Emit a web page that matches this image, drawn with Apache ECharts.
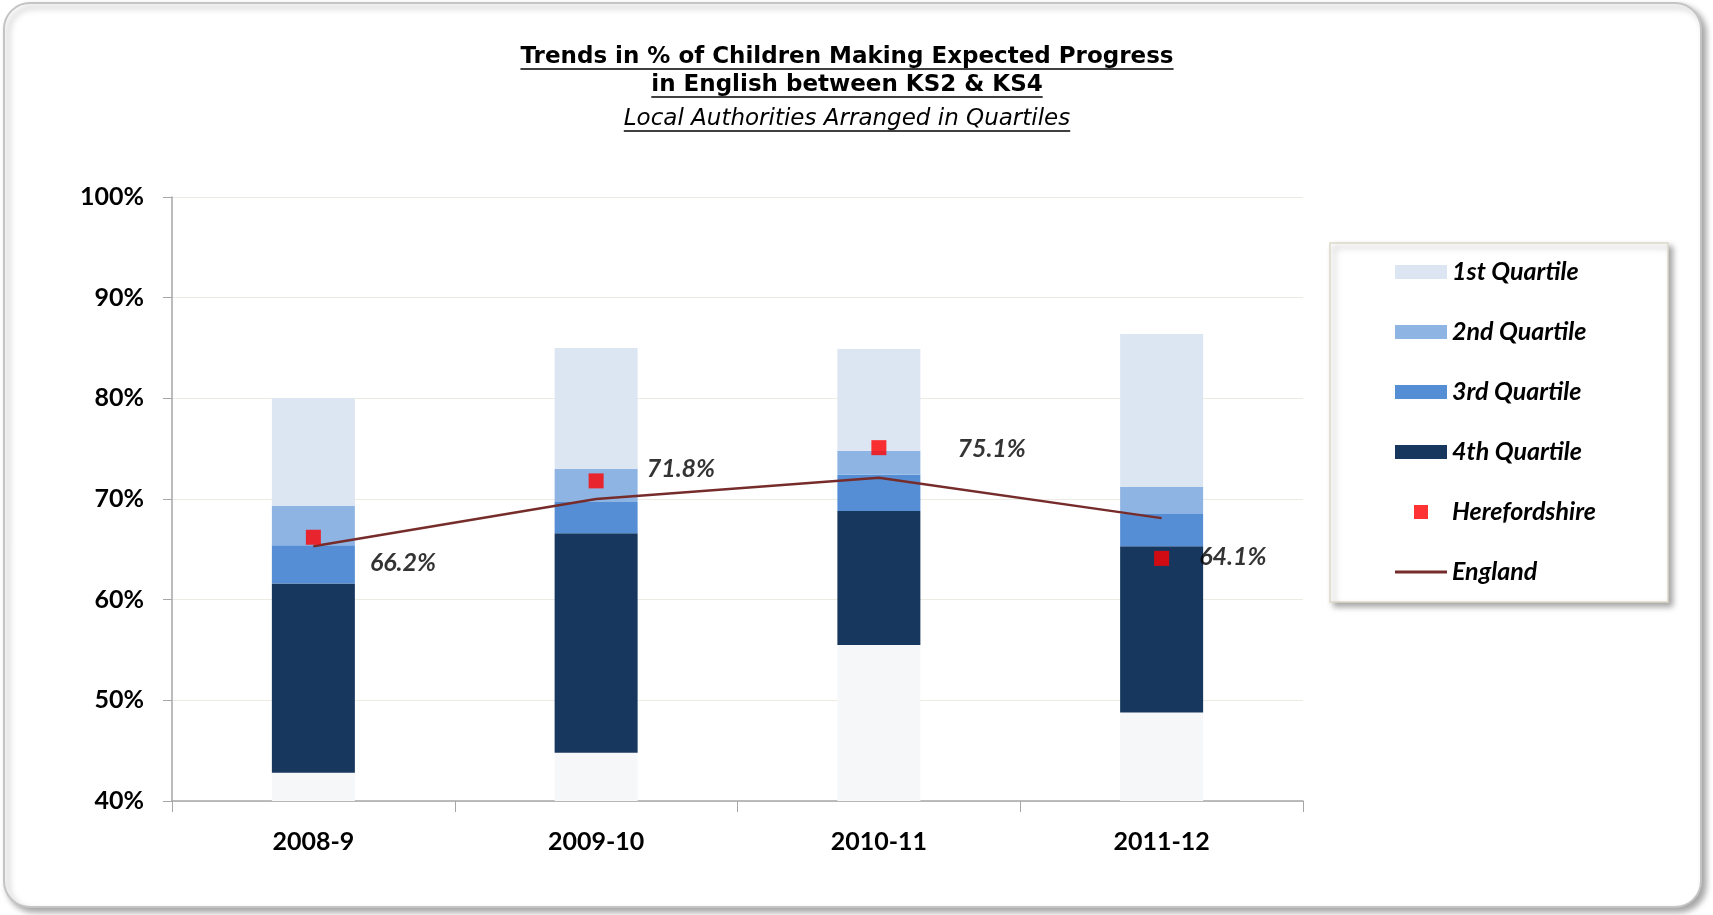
<!DOCTYPE html>
<html><head><meta charset="utf-8">
<script src="https://cdn.jsdelivr.net/npm/echarts@6/dist/echarts.min.js"></script>
<style>html,body{margin:0;padding:0;background:#fff}#c{width:1713px;height:915px}</style>
</head><body><div id="c"></div>
<script>
// ---- data (percent) ----
const categories = ['2008-9', '2009-10', '2010-11', '2011-12'];
const lowestLA   = [42.8, 44.8, 55.5, 48.8];   // bottom of 4th quartile
const q4Top      = [61.6, 66.6, 68.8, 65.3];
const q3Top      = [65.4, 69.7, 72.4, 68.5];
const q2Top      = [69.3, 73.0, 74.8, 71.2];
const q1Top      = [80.0, 85.0, 84.9, 86.4];
const herefordshire = [66.2, 71.8, 75.1, 64.1];
const england       = [65.3, 70.0, 72.1, 68.1];
const yTicks = [40, 50, 60, 70, 80, 90, 100];

const FONT = 'Lato, "Open Sans", sans-serif';
const TFONT = '"DejaVu Sans", "Liberation Sans", sans-serif';

function seg(top, bottom) { return top.map((v, i) => +(v - bottom[i]).toFixed(2)); }

const mctx = document.createElement('canvas').getContext('2d');
function tw(text, font) { mctx.font = font; return mctx.measureText(text).width; }

const cx = 847;
const titleLines = [
  { text: 'Trends in % of Children Making Expected Progress', font: 'bold 23px ' + TFONT, y: 57, uy: 69 },
  { text: 'in English between KS2 & KS4', font: 'bold 23px ' + TFONT, y: 85, uy: 97 },
  { text: 'Local Authorities Arranged in Quartiles', font: 'italic 23px ' + TFONT, y: 119, uy: 131 }
];
const graphics = [
  { type: 'rect', z: -100, silent: true,
    shape: { x: 4, y: 3, width: 1697, height: 904, r: 26 },
    style: { fill: '#fff', stroke: '#c4c4c4', lineWidth: 2, shadowBlur: 6, shadowOffsetX: 4, shadowOffsetY: 4, shadowColor: 'rgba(0,0,0,0.35)' } },
  { type: 'rect', z: 1, silent: true,
    shape: { x: 1330, y: 243, width: 338, height: 359 },
    style: { fill: '#fff', stroke: '#dcd9c8', lineWidth: 1.5, shadowBlur: 6, shadowOffsetX: 4, shadowOffsetY: 4, shadowColor: 'rgba(0,0,0,0.35)' } }
];
titleLines.forEach(t => {
  const w = tw(t.text, t.font);
  graphics.push({ type: 'text', z: 10, x: cx, y: t.y, style: { text: t.text, font: t.font, fill: '#000', align: 'center', verticalAlign: 'middle' } });
  graphics.push({ type: 'line', z: 10, shape: { x1: cx - w / 2, y1: t.uy, x2: cx + w / 2, y2: t.uy }, style: { stroke: '#000', lineWidth: 1.6 } });
});

// label offsets for Herefordshire values (style only)
const hLabelOffsets = [[49, 26], [43, -12], [71, 1], [30, -1]];

const barCommon = { type: 'bar', stack: 'q', barWidth: 83, clip: true };
const option = {
  animation: false,
  backgroundColor: '#fff',
  graphic: graphics,
  grid: { left: 172, right: 410, top: 197, bottom: 114 },
  legend: {
    orient: 'vertical', left: 1395, top: 259, padding: 0,
    itemWidth: 52, itemHeight: 14, itemGap: 34, symbolKeepAspect: true,
    textStyle: { fontFamily: FONT, fontSize: 25, fontStyle: 'italic', fontWeight: 'bold', color: '#000', lineHeight: 26 },
    data: [
      { name: '1st Quartile', icon: 'rect' },
      { name: '2nd Quartile', icon: 'rect' },
      { name: '3rd Quartile', icon: 'rect' },
      { name: '4th Quartile', icon: 'rect' },
      { name: 'Herefordshire', icon: 'path://M0,0H10V10H0Z' },
      { name: 'England', icon: 'path://M0,0H52V3H0Z' }
    ]
  },
  xAxis: {
    type: 'category', data: categories,
    axisLine: { lineStyle: { color: '#a6a6a6', width: 1.5 } },
    axisTick: { show: true, length: 11, lineStyle: { color: '#a6a6a6' } },
    axisLabel: { fontFamily: FONT, fontSize: 25, fontWeight: 'bold', color: '#000', margin: 28 }
  },
  yAxis: {
    type: 'value', min: 40, max: 100, interval: 10,
    axisLine: { show: true, lineStyle: { color: '#a6a6a6', width: 1.5 } },
    axisTick: { show: true, length: 9, lineStyle: { color: '#a6a6a6' } },
    splitLine: { lineStyle: { color: '#ecebe2', width: 1.2 } },
    axisLabel: { fontFamily: FONT, fontSize: 25, fontWeight: 'bold', color: '#000', margin: 28,
      formatter: v => (yTicks.indexOf(v) >= 0 ? v + '%' : '') }
  },
  series: [
    Object.assign({ name: 'base', data: lowestLA, itemStyle: { color: '#f6f7f9' } }, barCommon),
    Object.assign({ name: '4th Quartile', data: seg(q4Top, lowestLA), itemStyle: { color: '#17375e' } }, barCommon),
    Object.assign({ name: '3rd Quartile', data: seg(q3Top, q4Top), itemStyle: { color: '#558ed5' } }, barCommon),
    Object.assign({ name: '2nd Quartile', data: seg(q2Top, q3Top), itemStyle: { color: '#8eb4e3' } }, barCommon),
    Object.assign({ name: '1st Quartile', data: seg(q1Top, q2Top), itemStyle: { color: '#dce6f2' } }, barCommon),
    {
      name: 'England', type: 'line', data: england, symbol: 'none', z: 5,
      lineStyle: { color: '#772c2c', width: 2.5 }, itemStyle: { color: '#772c2c' }
    },
    {
      name: 'Herefordshire', type: 'scatter', symbol: 'rect', symbolSize: 15, z: 6,
      itemStyle: { color: '#ff0000' },
      data: herefordshire.map((v, i) => ({
        value: v,
        label: { show: true, position: 'right', distance: 0, offset: hLabelOffsets[i] }
      })),
      label: { show: true, formatter: p => p.value.toFixed(1) + '%', fontFamily: FONT, fontSize: 25, fontStyle: 'italic', fontWeight: 'bold', color: '#000' }
    }
  ]
};
const chart = echarts.init(document.getElementById('c'));
chart.setOption(option);
</script></body></html>
